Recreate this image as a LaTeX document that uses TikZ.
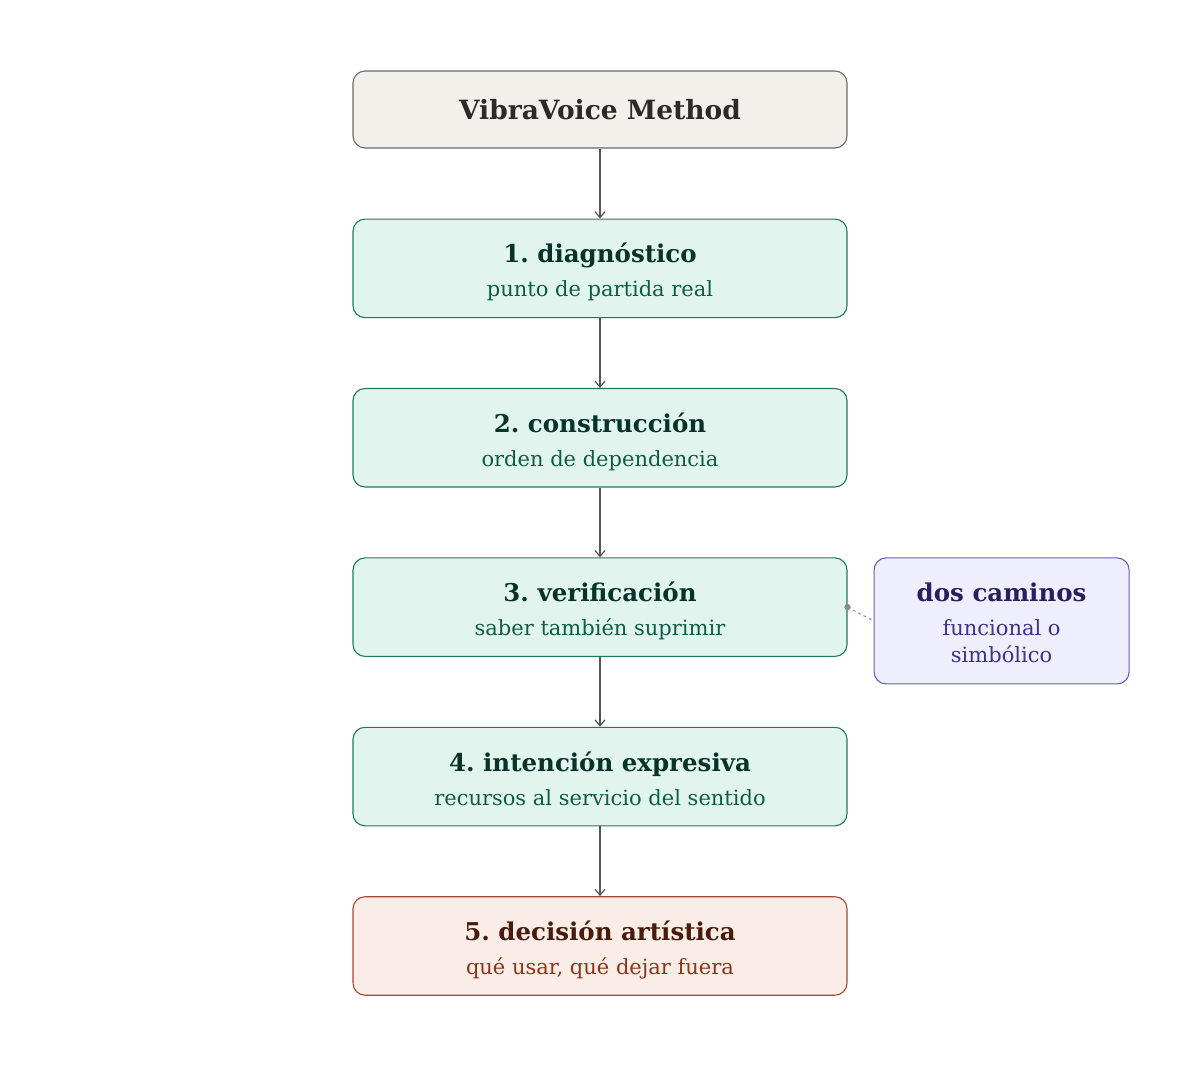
\documentclass[tikz,border=0pt]{standalone}
\usepackage{fontspec}
\setmainfont{DejaVu Serif}
\usepackage{xcolor}
\usetikzlibrary{positioning}
\usetikzlibrary{arrows.meta}

\definecolor{titlefill}{HTML}{F1F0EB}
\definecolor{titledraw}{HTML}{6B6B66}
\definecolor{titletext}{HTML}{2A2A28}
\definecolor{stepfill}{HTML}{E1F5EE}
\definecolor{stepdraw}{HTML}{1E7A5C}
\definecolor{steptext}{HTML}{083328}
\definecolor{stepsub}{HTML}{0F5C45}
\definecolor{endfill}{HTML}{FAECE7}
\definecolor{enddraw}{HTML}{A8492C}
\definecolor{endtext}{HTML}{4A1A0B}
\definecolor{endsub}{HTML}{8A3519}
\definecolor{notefill}{HTML}{EEEEFD}
\definecolor{notedraw}{HTML}{6A5CC0}
\definecolor{notetext}{HTML}{26215C}
\definecolor{notesub}{HTML}{3C3489}
\definecolor{linkgray}{HTML}{555555}
\definecolor{dotgray}{HTML}{8C8C8C}

\newcommand{\toprule}[1]{\rule{0pt}{#1pt}}
\newcommand{\botrule}[1]{\rule[-#1pt]{0pt}{#1pt}}
\newcommand{\steplabel}[2]{\toprule{29}{\bfseries\fontsize{24.5}{34}\selectfont #1}\\#2\botrule{6}}

\begin{document}
\frenchspacing
\begin{tikzpicture}[x=1pt, y=1pt, align=center,
	basebox/.style={rectangle,rounded corners=12pt,line width=1.1pt,minimum width=494pt,minimum height=98.5pt,inner sep=0pt,font=\fontsize{21}{34}\selectfont},
	titlebox/.style={basebox,fill=titlefill,draw=titledraw,text=titletext,minimum height=77pt,font=\bfseries\fontsize{26.5}{30}\selectfont},
	stepbox/.style={basebox,fill=stepfill,draw=stepdraw,text=stepsub},
	endbox/.style={basebox,fill=endfill,draw=enddraw,text=endsub},
	notebox/.style={basebox,fill=notefill,draw=notedraw,text=notesub,minimum width=255pt,minimum height=126pt},
	flow/.style={draw=linkgray,line width=1.2pt,-{Straight Barb[length=6pt,width=10pt]}},
	node distance = 69.8pt]
	\useasboundingbox (0,0) rectangle (1200,-1066);
	\node[titlebox] (title) at (600,-109.5) {\toprule{26}VibraVoice Method\botrule{6}};
	\node[stepbox] (diag) [below = 70pt of title] {\steplabel{\color{steptext}1. diagnóstico}{punto de partida real}};
	\node[stepbox] (constr) [below = of diag] {\steplabel{\color{steptext}2. construcción}{orden de dependencia}};
	\node[stepbox] (verif) [below = of constr] {\steplabel{\color{steptext}3. verificación}{saber también suprimir}};
	\node[stepbox] (intent) [below = of verif] {\steplabel{\color{steptext}4. intención expresiva}{recursos al servicio del sentido}};
	\node[endbox] (decis) [below = of intent] {\steplabel{\color{endtext}5. decisión artística}{qué usar, qué dejar fuera}};
	\node[notebox] (paths) [right = 26pt of verif.north east, anchor=north west] {\toprule{29}{\bfseries\fontsize{24.5}{34}\selectfont\color{notetext}dos caminos}\\funcional o\\[-7pt]simbólico\botrule{6}};
	\draw[flow] (title) -- (diag);
	\draw[flow] (diag) -- (constr);
	\draw[flow] (constr) -- (verif);
	\draw[flow] (verif) -- (intent);
	\draw[flow] (intent) -- (decis);
	\draw[dashed,dotgray,line width=1pt] (verif.east) -- (paths.west);
	\fill[dotgray] (verif.east) circle (3.2pt);
\end{tikzpicture}
\end{document}
